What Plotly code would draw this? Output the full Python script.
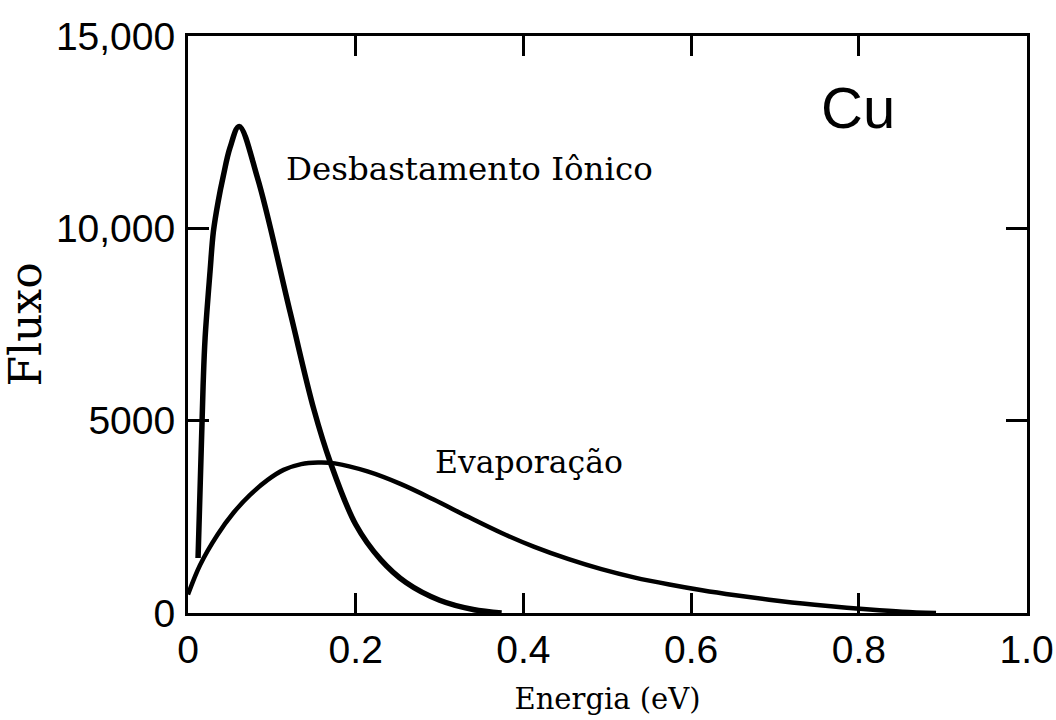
import plotly.graph_objects as go

# Energy (eV) and flux readings for the two emission spectra of Cu
sputter_energy = [0.012, 0.018, 0.0204, 0.0263, 0.0303, 0.036, 0.042, 0.050, 0.061,
                  0.083, 0.122, 0.150, 0.170, 0.200, 0.230, 0.260, 0.300, 0.340, 0.374]
sputter_flux = [1430, 5900, 7150, 8880, 9920, 10700, 11350, 12090, 12650,
                11300, 7800, 5300, 3900, 2300, 1380, 790, 330, 90, 0]

evap_energy = [0.0, 0.0144, 0.035, 0.054, 0.074, 0.095, 0.114, 0.135, 0.155,
               0.175, 0.214, 0.254, 0.293, 0.334, 0.374, 0.413, 0.454, 0.493,
               0.533, 0.574, 0.613, 0.653, 0.693, 0.733, 0.773, 0.813, 0.852, 0.892]
evap_flux = [480, 1250, 2030, 2600, 3070, 3460, 3720, 3870, 3910,
             3890, 3680, 3350, 2950, 2500, 2080, 1720, 1400, 1140,
             920, 740, 590, 460, 345, 245, 160, 90, 35, 0]

x_ticks = [0, 0.2, 0.4, 0.6, 0.8, 1.0]
x_tick_text = ["0", "0.2", "0.4", "0.6", "0.8", "1.0"]
y_ticks = [0, 5000, 10000, 15000]
y_tick_text = ["0", "5000", "10,000", "15,000"]

serif = "DejaVu Serif, Liberation Serif, serif"
sans = "Liberation Sans Narrow, Liberation Sans, Arial, sans-serif"

fig = go.Figure()
fig.add_trace(go.Scatter(
    x=sputter_energy, y=sputter_flux, mode="lines",
    line=dict(color="black", width=5.5, shape="spline", smoothing=1.0),
    name="Desbastamento Iônico", hoverinfo="skip",
))
fig.add_trace(go.Scatter(
    x=evap_energy, y=evap_flux, mode="lines",
    line=dict(color="black", width=4.5, shape="spline", smoothing=1.0),
    name="Evaporação", hoverinfo="skip",
))

fig.add_annotation(x=0.115, y=11540, xref="x", yref="y", text="Desbastamento Iônico",
                   showarrow=False, xanchor="left", yanchor="middle",
                   font=dict(family=serif, size=32.5, color="black"))
fig.add_annotation(x=0.292, y=3930, xref="x", yref="y", text="Evaporação",
                   showarrow=False, xanchor="left", yanchor="middle",
                   font=dict(family=serif, size=31.5, color="black"))
fig.add_annotation(x=0.752, y=13140, xref="x", yref="y", text="Cu",
                   showarrow=False, xanchor="left", yanchor="middle",
                   font=dict(family=sans, size=58, color="black"))

fig.update_layout(
    width=1056, height=720,
    margin=dict(l=188, r=29, t=36, b=107),
    paper_bgcolor="white", plot_bgcolor="white",
    showlegend=False,
    xaxis=dict(
        range=[0, 1.0005], tickvals=x_ticks, ticktext=x_tick_text,
        ticks="inside", ticklen=20, tickwidth=3, tickcolor="black",
        showline=True, linewidth=3, linecolor="black", mirror="ticks",
        showgrid=False, zeroline=False, automargin=False,
        tickfont=dict(family=sans, size=39, color="black"),
        title=dict(text="Energia (eV)", standoff=19,
                   font=dict(family=serif, size=29, color="black")),
    ),
    yaxis=dict(
        range=[0, 15000], tickvals=y_ticks, ticktext=y_tick_text,
        ticks="inside", ticklen=21, tickwidth=3, tickcolor="black",
        showline=True, linewidth=3, linecolor="black", mirror="ticks",
        showgrid=False, zeroline=False, ticklabelstandoff=2, automargin=False,
        tickfont=dict(family=sans, size=39, color="black"),
        title=dict(text="Fluxo", standoff=20,
                   font=dict(family=serif, size=44, color="black")),
    ),
)

fig.write_html("out.html")
